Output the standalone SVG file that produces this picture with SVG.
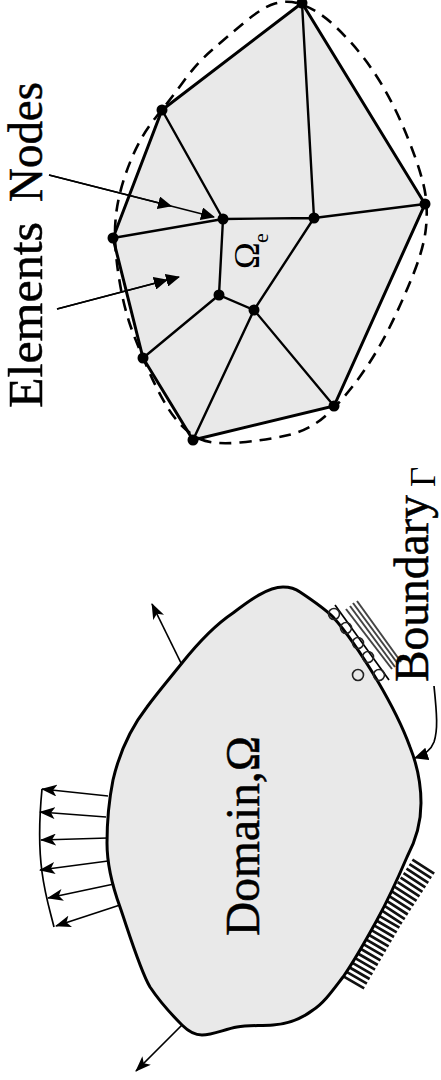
<svg xmlns="http://www.w3.org/2000/svg" width="441" height="1080" viewBox="0 0 441 1080">
<style>
text{font-family:"Liberation Serif","Times New Roman",serif;fill:#000}
.big{font-size:48px;stroke:#000;stroke-width:.5}
.fill{fill:#e9e9e9;stroke:none}
.edge{fill:none;stroke:#000;stroke-width:2.4;stroke-linecap:round}
.outer{fill:none;stroke:#000;stroke-width:3;stroke-linecap:round}
.bd{fill:#e9e9e9;stroke:#000;stroke-width:3}
.thin{fill:none;stroke:#000;stroke-width:1.7}
.dash{fill:none;stroke:#000;stroke-width:2.6;stroke-dasharray:12 8}
.n{fill:#000;stroke:none}
.roll{fill:none;stroke:#222;stroke-width:1.6}
.hatch{fill:none;stroke:#444;stroke-width:2}
</style>
<defs>
<marker id="ah" viewBox="0 0 16 12" refX="15" refY="6" markerWidth="16" markerHeight="12" markerUnits="userSpaceOnUse" orient="auto"><path d="M0 0L16 6L0 12L4 6Z" fill="#000"/></marker>
<marker id="af" viewBox="0 0 14 13" refX="13" refY="6.500" markerWidth="14" markerHeight="13" markerUnits="userSpaceOnUse" orient="auto"><path d="M0 0L14 6.500L0 13Z" fill="#000"/></marker>
</defs>
<g id="mesh">
<polygon class="fill" points="302,3 425,204 334,406 193,440 143,358 113,238 162,110"/>
<path class="dash" d="M200,439Q213,445 240,442.500Q267,440 288.500,435Q310,430 326.500,415Q343,400 360,376.500Q377,353 390,326.500Q403,300 413,275Q423,250 425.500,231.500Q428,213 425.500,195Q423,177 410,143.500Q397,110 382,85Q367,60 350,41.500Q333,23 321.500,15Q310,7 298.500,3.500Q287,0 275,3.500Q263,7 245,22Q227,37 212,50Q197,63 183.500,81.500Q170,100 156.500,116.500Q143,133 134,153Q125,173 120,193Q115,213 115,233Q115,253 119,278Q123,303 129,321.500Q135,340 149,371.500Q163,403 175,418Q187,433 200,439Z"/>
<polyline class="outer" points="302,3 425,204 334,406 193,440 143,358 113,238 162,110 302,3"/>
<path class="edge" d="M302,3L314,218M162,110L223,219M113,238L223,219L314,218L425,204M223,219L219,295L254,310L314,218M143,358L219,295M193,440L254,310L334,406"/>
</g>
<g id="mesh-nodes">
<circle class="n" cx="302" cy="3" r="5.500"/><circle class="n" cx="162" cy="110" r="5.500"/><circle class="n" cx="113" cy="238" r="5.500"/><circle class="n" cx="143" cy="358" r="5.500"/><circle class="n" cx="193" cy="440" r="5.500"/><circle class="n" cx="334" cy="406" r="5.500"/><circle class="n" cx="425" cy="204" r="5.500"/><circle class="n" cx="314" cy="218" r="5.500"/><circle class="n" cx="223" cy="219" r="5.500"/><circle class="n" cx="219" cy="295" r="5.500"/><circle class="n" cx="254" cy="310" r="5.500"/>
</g>
<g id="fixed-support">
<path d="M424,865.500L390,918L352,983.500" fill="none" stroke="#111" stroke-width="26" stroke-dasharray="2.700 2.700"/>
</g>
<g id="domain">
<path class="bd" d="M283,587C291,587 296,589 300,592C315,602 325,609 333,617C350,636 365,660 377,680C390,702 402,725 410,747C416,762 421,780 421,803C421,825 415,842 407,857C398,878 388,900 377,920C366,940 355,960 343,977C333,990 324,1003 313,1010C300,1020 288,1024 273,1025C260,1026 248,1025 237,1027C225,1029 213,1035 202,1035C195,1035 188,1031 182,1025C170,1013 160,1002 150,987C140,970 128,930 120,907C112,885 107,860 107,843C107,825 108,805 113,780C120,750 133,725 147,707C158,692 170,678 182,663C198,643 215,625 233,613C250,600 268,587 283,587Z"/>
</g>
<g id="roller-support">
<line class="thin" x1="335" y1="605" x2="389" y2="680" stroke-width="1.500"/>
<circle class="roll" cx="334" cy="614" r="5.500"/><circle class="roll" cx="346" cy="628" r="5.500"/><circle class="roll" cx="358" cy="643" r="5.500"/><circle class="roll" cx="368" cy="657" r="5.500"/><circle class="roll" cx="379" cy="675" r="5.500"/>
<circle class="roll" cx="358" cy="675" r="5.500"/>
<line class="hatch" x1="357" y1="601" x2="401" y2="662"/><line class="hatch" x1="353" y1="603" x2="398" y2="664"/><line class="hatch" x1="350" y1="606" x2="395" y2="667"/><line class="hatch" x1="346" y1="609" x2="392" y2="669"/>
</g>
<g id="connectors">
<line class="thin" x1="49" y1="175" x2="214" y2="217" marker-end="url(#af)"/>
<line class="thin" x1="49" y1="175" x2="171" y2="206" marker-end="url(#af)"/>
<line class="thin" x1="57" y1="309" x2="179" y2="277" marker-end="url(#af)"/>
<line class="thin" x1="57" y1="309" x2="167" y2="280" marker-end="url(#af)"/>
<line class="thin" x1="182" y1="1025" x2="136" y2="1071" stroke-width="1.800" marker-end="url(#ah)"/>
<line class="thin" x1="181" y1="663" x2="152" y2="604" stroke-width="1.800" marker-end="url(#ah)"/>
<line class="thin" x1="108" y1="796" x2="42" y2="789" marker-end="url(#ah)"/>
<line class="thin" x1="106" y1="817" x2="40" y2="812" marker-end="url(#ah)"/>
<line class="thin" x1="108" y1="838" x2="41" y2="840" marker-end="url(#ah)"/>
<line class="thin" x1="108" y1="861" x2="40" y2="870" marker-end="url(#ah)"/>
<line class="thin" x1="114" y1="884" x2="48" y2="898" marker-end="url(#ah)"/>
<line class="thin" x1="120" y1="905" x2="56" y2="926" marker-end="url(#ah)"/>
<path class="thin" d="M42,789C39,820 39,850 42,872C45,895 49,907 54,927" stroke-width="1.200"/>
<path class="thin" d="M434,686C437,715 438,730 434,742C431,750 424,755 415,758" marker-end="url(#af)"/>
</g>
<g id="labels">
<text class="big" transform="translate(42,408) rotate(-90)" textLength="186" lengthAdjust="spacingAndGlyphs">Elements</text>
<text class="big" transform="translate(42,202) rotate(-90)" textLength="120" lengthAdjust="spacingAndGlyphs">Nodes</text>
<text class="big" transform="translate(259,936) rotate(-90)" textLength="200" lengthAdjust="spacingAndGlyphs">Domain,Ω</text>
<text class="big" transform="translate(428,682) rotate(-90)" textLength="187" lengthAdjust="spacingAndGlyphs">Boundary</text>
<text transform="translate(435,487) rotate(-90)" font-size="35">Γ</text>
<text transform="translate(259,269) rotate(-90)" font-size="36">Ω</text>
<text transform="translate(268,243) rotate(-90)" font-size="22">e</text>
</g>
</svg>
